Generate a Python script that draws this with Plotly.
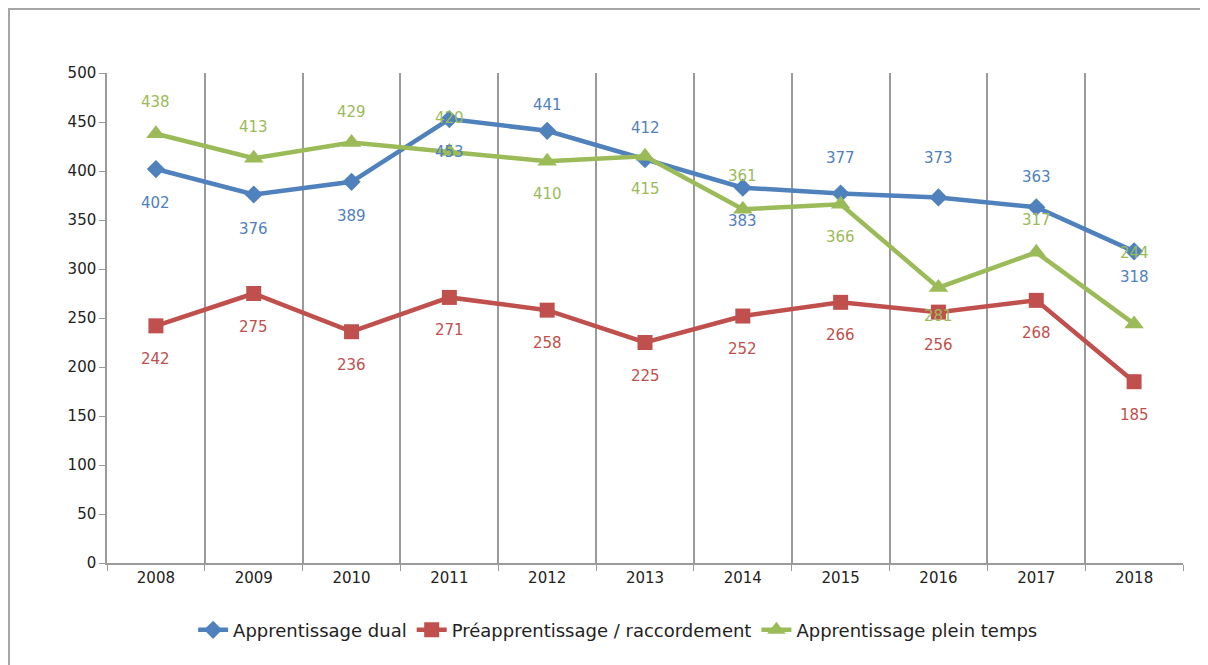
import plotly.graph_objects as go

# values
years = ["2008", "2009", "2010", "2011", "2012", "2013", "2014", "2015", "2016", "2017", "2018"]
dual = [402, 376, 389, 453, 441, 412, 383, 377, 373, 363, 318]
preapp = [242, 275, 236, 271, 258, 225, 252, 266, 256, 268, 185]
plein = [438, 413, 429, 420, 410, 415, 361, 366, 281, 317, 244]

# label offset from the marker in px (positive = above), as placed in the original
dual_shift = [-34, -34, -34, -33, 26, 31, -33, 36, 39, 30, -26]
preapp_shift = [-33] * 11
plein_shift = [32, 31, 31, 33, -33, -33, 33, -33, -28, 32, 71]

BLUE = "#4F81BD"
RED = "#C0504D"
GREEN = "#9BBB59"
GRID = "#9a9a9a"
FONT = "'DejaVu Sans', sans-serif"

series = [
    ("Apprentissage dual", dual, BLUE, "diamond", 14, dual_shift),
    ("Préapprentissage / raccordement", preapp, RED, "square", 15, preapp_shift),
    ("Apprentissage plein temps", plein, GREEN, "triangle-up", 17, plein_shift),
]

fig = go.Figure()
annotations = []
for name, vals, col, sym, msize, shifts in series:
    fig.add_trace(go.Scatter(
        x=years, y=vals, name=name, mode="lines+markers",
        line=dict(color=col, width=4.5),
        marker=dict(color=col, symbol=sym, size=msize),
        cliponaxis=False,
    ))
    # annotations on a category axis take the category index
    for i, (v, s) in enumerate(zip(vals, shifts)):
        annotations.append(dict(
            x=i, y=v, xref="x", yref="y", text=str(v), showarrow=False,
            yshift=s, font=dict(color=col, size=15, family=FONT),
        ))

# the page sits 8px in from the window edge, margins account for it
fig.update_layout(
    width=1208, height=665,
    paper_bgcolor="white", plot_bgcolor="white",
    margin=dict(l=99, r=33, t=65, b=110),
    font=dict(family=FONT, size=15, color="#222222"),
    showlegend=True,
    legend=dict(orientation="h", x=0.475, xanchor="center", y=-0.137, yanchor="middle",
                font=dict(size=18, color="#222222"), traceorder="normal"),
    xaxis=dict(type="category", tickson="boundaries", showgrid=True, gridcolor=GRID,
               gridwidth=1.5, ticks="outside", ticklen=6, tickcolor=GRID,
               showline=True, linecolor=GRID, linewidth=1.5,
               range=[-0.5, 10.5], tickfont=dict(size=15)),
    yaxis=dict(range=[0, 500], dtick=50, showgrid=False, ticks="outside", ticklen=6,
               tickcolor=GRID, showline=True, linecolor=GRID, linewidth=1.5,
               zeroline=False, tickfont=dict(size=15)),
    annotations=annotations,
    shapes=[dict(type="rect", xref="paper", yref="paper",
                 x0=(1 - 99) / 1076, x1=(1230 - 99) / 1076,
                 y0=(555 - 680) / 490, y1=(555 - 1) / 490,
                 line=dict(color="#a6a6a6", width=2), layer="below")],
)

fig.write_html("out.html")
